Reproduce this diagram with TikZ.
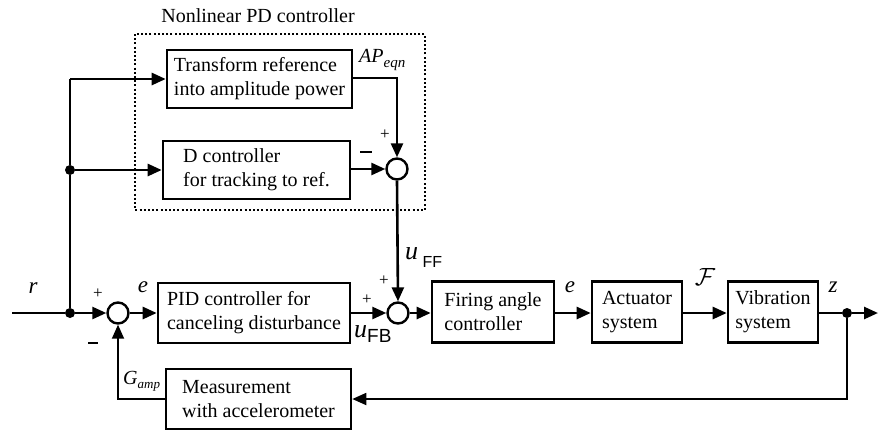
\documentclass[tikz,border=0pt]{standalone}
\usepackage{fontspec}
\setmainfont{Liberation Serif}
\newfontfamily\sansf{Liberation Sans}
\usetikzlibrary{arrows.meta}
\tikzset{
  blk/.style={draw, line width=2.6pt, align=left, inner sep=4pt, font=\fontsize{20}{24}\selectfont},
  sumc/.style={draw, circle, line width=2.4pt, minimum size=21pt, inner sep=0pt},
  sig/.style={line width=2.6pt, -{Triangle[length=14pt,width=12pt]}},
  fb/.style={line width=1.8pt, -{Triangle[length=14pt,width=12pt]}},
  lbl/.style={font=\fontsize{23}{24}\selectfont\itshape, inner sep=0pt},
  sgn/.style={font=\fontsize{17}{18}\selectfont, inner sep=0pt},
  dotj/.style={circle, fill, minimum size=10pt, inner sep=0pt},
}
\begin{document}
\begin{tikzpicture}[x=1pt,y=-1pt]
\useasboundingbox (0,0) rectangle (878,432);
% title and dotted frame
\node[font=\fontsize{20}{24}\selectfont] (title) at (258,16) {Nonlinear PD controller};
\draw[line width=2.2pt, dash pattern=on 2pt off 2.2pt] (135,34) rectangle (425,210);
% blocks
\node[blk, minimum width=185pt, minimum height=58pt] (tr) at (259.5,79) {Transform reference\\into amplitude power};
\node[blk, minimum width=187pt, minimum height=58pt] (dc) at (256.5,170) {D controller\\for tracking to ref.};
\node[sumc] (s0) at (397,169) {};
\node[sumc] (s1) at (118,313) {};
\node[blk, minimum width=192pt, minimum height=60pt] (pid) at (254,313) {PID controller for\\canceling disturbance};
\node[sumc] (s2) at (398,313) {};
\node[blk, minimum width=122pt, minimum height=61pt] (fa) at (493,312) {Firing angle\\controller};
\node[blk, minimum width=90pt, minimum height=61pt] (act) at (637,312) {Actuator\\system};
\node[blk, minimum width=90pt, minimum height=61pt] (vib) at (773,312) {Vibration\\system};
\node[blk, minimum width=185pt, minimum height=60pt] (meas) at (258.5,399) {Measurement\\with accelerometer};
% junctions
\node[dotj] (j1) at (70,313) {};
\node[dotj] (j2) at (70,170) {};
\node[dotj] (j3) at (847,313) {};
\coordinate (in) at (12,313);
\coordinate (out) at (878,313);
\coordinate (c1) at (70,79);
% signals
\draw[line width=2.6pt] (in) -- (j1);
\draw[sig] (j1) -- (s1);
\draw[line width=2.6pt] (j1) -- (j2) -- (c1);
\draw[sig] (c1) -- (tr.west);
\draw[sig] (j2) -- (dc.west |- j2);
\draw[sig] (tr.east |- 0,78) -| (s0.north);
\draw[sig] (dc.east |- s0) -- (s0.west);
\draw[sig] (s0.south) -- (s2.north);
\draw[sig] (s1) -- (pid.west |- s1);
\draw[sig] (pid.east |- s2) -- (s2.west);
\draw[sig] (s2) -- (fa.west |- s2);
\draw[sig] (fa.east |- s2) -- (act.west |- s2);
\draw[sig] (act.east |- s2) -- (vib.west |- s2);
\draw[line width=2.6pt] (vib.east |- j3) -- (j3);
\draw[sig] (j3) -- (out);
\draw[fb] (j3) |- (meas.east);
\draw[fb] (meas.west) -| (s1.south);
% labels
\node[lbl] (lr) at (33,288) {r};
\node[lbl] (le1) at (143,287) {e};
\node[lbl] (le2) at (570,287) {e};
\node[lbl] (lz) at (833,287) {z};
\node[inner sep=0pt, font=\fontsize{28}{30}\selectfont] (lF) at (705,277) {$\mathcal{F}$};
\node[inner sep=0pt, anchor=west] (lap) at (359,60) {\fontsize{20}{22}\selectfont\itshape AP\raisebox{-5pt}{\fontsize{15}{16}\selectfont eqn}};
\node[inner sep=0pt, anchor=west] (lg) at (123,381) {\fontsize{20}{22}\selectfont\itshape G\raisebox{-4pt}{\fontsize{13}{14}\selectfont amp}};
\node[inner sep=0pt, anchor=west] (luff) at (405,258) {\fontsize{26}{28}\selectfont\itshape u\,\raisebox{-8pt}{\fontsize{16}{18}\selectfont\sansf\upshape FF}};
\node[inner sep=0pt, anchor=west] (lufb) at (354,334) {\fontsize{26}{28}\selectfont\itshape u\raisebox{-5pt}{\fontsize{19}{20}\selectfont\sansf\upshape FB}};
\node[sgn] (p1) at (98,294) {+};
\node[sgn] (m1) at (93,343) {\rule{10pt}{1.6pt}};
\node[sgn] (p2) at (367,300) {+};
\node[sgn] (p3) at (384,281) {+};
\node[sgn] (p4) at (385,135) {+};
\node[sgn] (m2) at (366,152) {\rule{12pt}{1.6pt}};
\end{tikzpicture}
\end{document}
